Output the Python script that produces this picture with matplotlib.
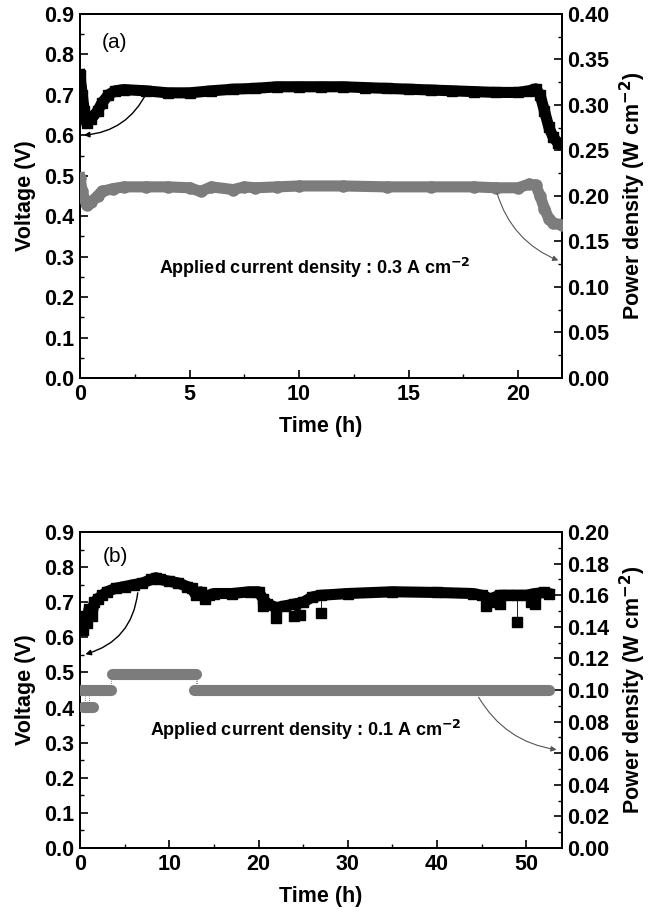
import numpy as np
import matplotlib
matplotlib.use("Agg")
import matplotlib.pyplot as plt
from matplotlib.ticker import MultipleLocator, FormatStrFormatter

plt.rcParams["font.family"] = ["Liberation Sans", "DejaVu Sans"]
plt.rcParams["font.weight"] = "bold"
plt.rcParams["axes.linewidth"] = 1.4

# ---- panel (a): 0.3 A cm-2 ----
ta_v = [0, 0.1, 0.2, 0.3, 0.5, 0.8, 1.0, 1.3, 1.6, 2, 3, 4, 5, 6, 7, 8, 9, 10, 11,
        12, 13, 14, 15, 16, 17, 18, 19, 20, 20.5, 20.8, 21.0, 21.2, 21.4, 21.6, 21.8, 22]
va = [0.75, 0.70, 0.66, 0.63, 0.64, 0.66, 0.68, 0.70, 0.71, 0.713, 0.71, 0.705, 0.705,
      0.71, 0.714, 0.716, 0.72, 0.72, 0.72, 0.72, 0.718, 0.716, 0.714, 0.712, 0.71,
      0.708, 0.706, 0.706, 0.71, 0.715, 0.70, 0.66, 0.62, 0.595, 0.582, 0.578]
ta_p = [0, 0.1, 0.3, 0.5, 0.8, 1.0, 1.5, 2, 3, 4, 5, 5.5, 6, 7, 7.5, 8, 9, 10, 12,
        14, 16, 18, 19, 20, 20.5, 20.8, 21.0, 21.2, 21.4, 21.6, 22]
pa = [0.22, 0.205, 0.19, 0.193, 0.20, 0.205, 0.208, 0.21, 0.21, 0.21, 0.209, 0.205,
      0.21, 0.207, 0.21, 0.209, 0.21, 0.211, 0.211, 0.21, 0.21, 0.21, 0.209, 0.209,
      0.213, 0.212, 0.20, 0.186, 0.175, 0.17, 0.168]

# ---- panel (b): 0.1 A cm-2 ----
tb_v = [0, 0.3, 0.5, 0.8, 1.0, 1.3, 1.6, 2, 2.5, 3, 4, 5, 6, 7, 8, 8.5, 9, 10, 11,
        12, 12.5, 13, 13.5, 14, 14.5, 15, 17, 19, 20, 20.5, 21, 22, 23, 24, 25, 26,
        27, 30, 35, 40, 44, 45, 46, 47, 48, 49, 50, 51, 52, 52.5]
vb = [0.63, 0.62, 0.66, 0.64, 0.68, 0.66, 0.70, 0.71, 0.72, 0.73, 0.74, 0.745, 0.75,
      0.755, 0.765, 0.77, 0.765, 0.76, 0.755, 0.745, 0.74, 0.72, 0.73, 0.71, 0.72,
      0.725, 0.725, 0.73, 0.73, 0.71, 0.695, 0.685, 0.69, 0.695, 0.70, 0.715, 0.72,
      0.725, 0.73, 0.728, 0.725, 0.72, 0.71, 0.72, 0.72, 0.72, 0.72, 0.725, 0.728, 0.725]
tb_out = [20.5, 22, 24, 24.6, 27, 45.5, 46.2, 47, 49, 50.5, 51]
vb_out = [0.69, 0.655, 0.66, 0.665, 0.67, 0.69, 0.70, 0.695, 0.645, 0.70, 0.695]
seg_start = [0.3, 0.1, 3.6, 12.8]
seg_end = [1.5, 3.5, 13.0, 52.5]
seg_power = [0.089, 0.100, 0.110, 0.100]
step_t = [0.6, 1.0, 3.5, 13.0, 13.1]
step_lo = [0.089, 0.089, 0.100, 0.100, 0.100]
step_hi = [0.100, 0.100, 0.110, 0.110, 0.110]

GRAY = "#7c7c7c"

fig = plt.figure(figsize=(6.58, 9.13), dpi=100)
axa = fig.add_axes([0.1216, 0.586, 0.7325, 0.3987])
axb = fig.add_axes([0.1216, 0.0712, 0.7325, 0.346])


def style(ax, ax2, xmax, xmaj, xmin, pmax, pmaj, pmin):
    ax.set_xlim(0, xmax)
    ax.set_ylim(0, 0.9)
    ax2.set_ylim(0, pmax)
    ax.xaxis.set_major_locator(MultipleLocator(xmaj))
    ax.xaxis.set_minor_locator(MultipleLocator(xmin))
    ax.yaxis.set_major_locator(MultipleLocator(0.1))
    ax.yaxis.set_minor_locator(MultipleLocator(0.05))
    ax.yaxis.set_major_formatter(FormatStrFormatter("%.1f"))
    ax2.yaxis.set_major_locator(MultipleLocator(pmaj))
    ax2.yaxis.set_minor_locator(MultipleLocator(pmin))
    ax2.yaxis.set_major_formatter(FormatStrFormatter("%.2f"))
    for a in (ax, ax2):
        a.tick_params(which="major", direction="in", length=6, width=1.2,
                      labelsize=15.5, pad=4)
        a.tick_params(which="minor", direction="in", length=3, width=1.0)
    ax.tick_params(top=False, right=False, which="both")
    ax.set_xlabel("Time (h)", fontsize=15.5, fontweight="bold", labelpad=8)
    ax.set_ylabel("Voltage (V)", fontsize=15.5, fontweight="bold", labelpad=6)
    ax2.set_ylabel("Power density (W cm$^{\\mathbf{-2}}$)", fontsize=15.5,
                   fontweight="bold", labelpad=6)


# panel (a)
axa2 = axa.twinx()
axa.plot(ta_v, va, "-s", color="k", lw=8, ms=7, zorder=3)
axa2.plot(ta_p, pa, "-o", color=GRAY, lw=8, ms=8, mec=GRAY, zorder=3)
axa.annotate("", xy=(0.05, 0.60), xytext=(3.1, 0.712),
             arrowprops=dict(arrowstyle="-|>", color="k", lw=1.0,
                             connectionstyle="arc3,rad=-0.3", mutation_scale=8))
axa2.annotate("", xy=(21.95, 0.128), xytext=(19.0, 0.206),
              arrowprops=dict(arrowstyle="-|>", color="#555555", lw=0.8,
                              connectionstyle="arc3,rad=0.25", mutation_scale=8))
axa.text(1.0, 0.83, "(a)", fontsize=15, fontweight="normal", va="center")
axa.text(10.7, 0.272, "Applied current density : 0.3 A cm$^{\\mathbf{-2}}$",
         fontsize=13, fontweight="bold", ha="center", va="center")
style(axa, axa2, 22, 5, 2.5, 0.40, 0.05, 0.025)

# panel (b)
axb2 = axb.twinx()
axb.vlines(tb_out, vb_out, np.interp(tb_out, tb_v, vb), color="k", lw=0.6)
axb.plot(tb_v, vb, "-s", color="k", lw=8, ms=7, zorder=3)
axb.plot(tb_out, vb_out, "s", color="k", ms=6.5, zorder=3)
axb2.vlines(step_t, step_lo, step_hi, color="#555555", lw=0.6, linestyles=":")
for s, e, p in zip(seg_start, seg_end, seg_power):
    axb2.plot([s, e], [p, p], color=GRAY, lw=8, solid_capstyle="round", zorder=3)
axb.annotate("", xy=(0.3, 0.55), xytext=(6.5, 0.735),
             arrowprops=dict(arrowstyle="-|>", color="k", lw=1.0,
                             connectionstyle="arc3,rad=-0.35", mutation_scale=8))
axb2.annotate("", xy=(53.7, 0.062), xytext=(44.5, 0.097),
              arrowprops=dict(arrowstyle="-|>", color="#555555", lw=0.8,
                              connectionstyle="arc3,rad=0.25", mutation_scale=8))
axb.text(2.5, 0.83, "(b)", fontsize=15, fontweight="normal", va="center")
axb.text(25.3, 0.335, "Applied current density : 0.1 A cm$^{\\mathbf{-2}}$",
         fontsize=13, fontweight="bold", ha="center", va="center")
style(axb, axb2, 54, 10, 5, 0.20, 0.02, 0.01)

fig.savefig("out.png", dpi=100)
